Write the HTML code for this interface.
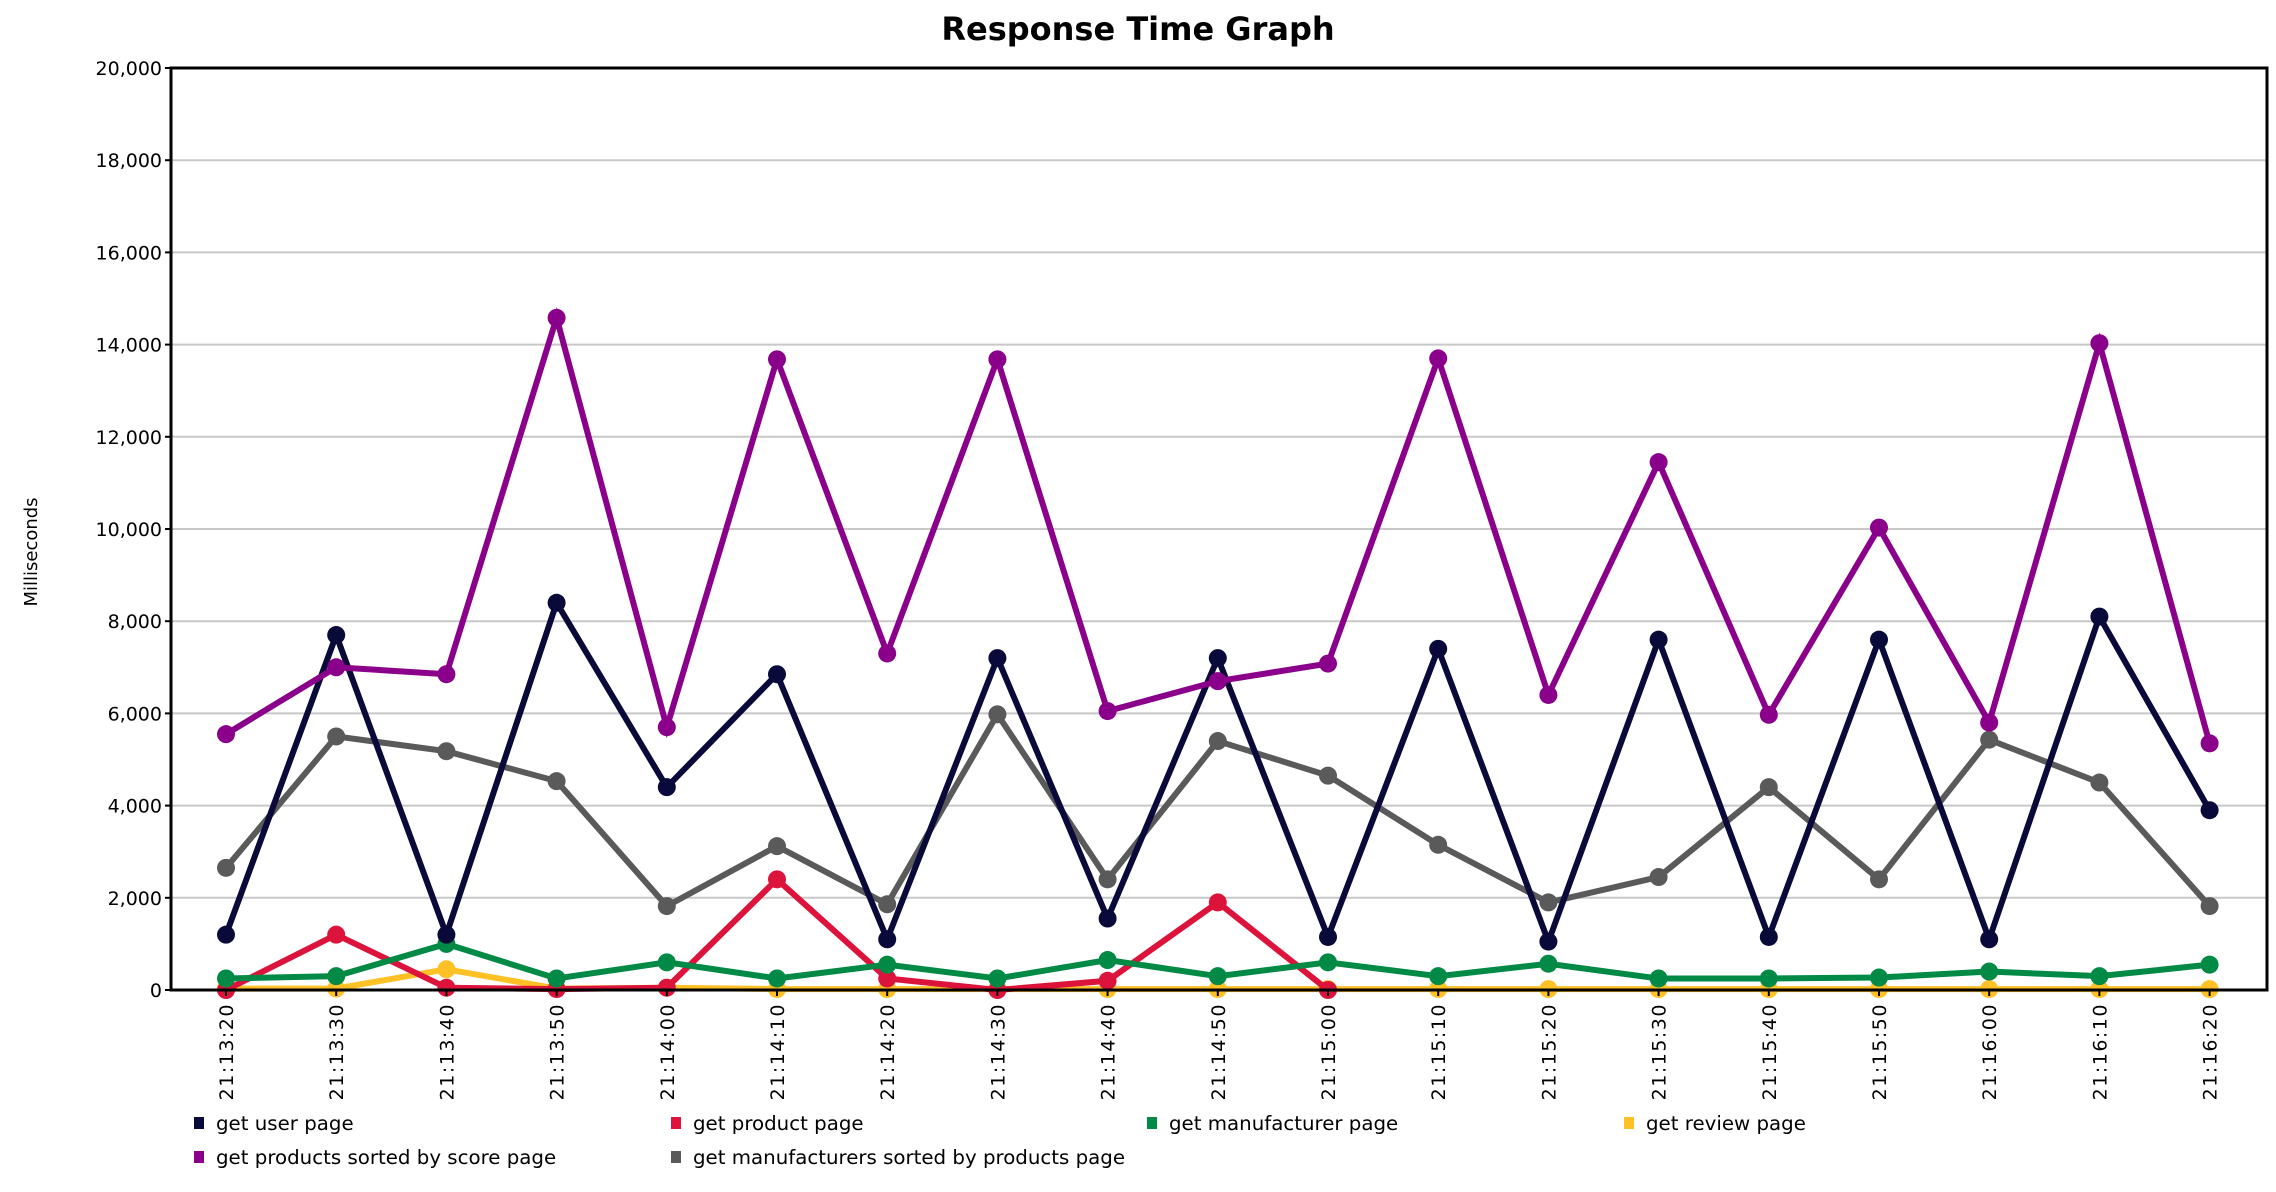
<!DOCTYPE html>
<html><head><meta charset="utf-8"><style>
html,body{margin:0;padding:0;background:#fff;}
svg{display:block;font-family:"DejaVu Sans","Liberation Sans",sans-serif;}
</style></head><body>
<svg id="chart" width="2276" height="1192" viewBox="0 0 2276 1192" xmlns="http://www.w3.org/2000/svg">
<text x="1138" y="40" text-anchor="middle" font-size="32" font-weight="bold">Response Time Graph</text>
<text transform="translate(37,552) rotate(-90)" text-anchor="middle" font-size="18">Milliseconds</text>
<g id="grid"></g><g id="series"></g><g id="axes"></g><g id="legend"></g>
</svg>
<script>
const categories=["21:13:20","21:13:30","21:13:40","21:13:50","21:14:00","21:14:10","21:14:20","21:14:30","21:14:40","21:14:50","21:15:00","21:15:10","21:15:20","21:15:30","21:15:40","21:15:50","21:16:00","21:16:10","21:16:20"];
const yTicks=[0,2000,4000,6000,8000,10000,12000,14000,16000,18000,20000];
const seriesNames=["get user page","get product page","get manufacturer page","get review page","get products sorted by score page","get manufacturers sorted by products page"];
const userPage=[1200,7700,1200,8400,4400,6850,1100,7200,1550,7200,1150,7400,1050,7600,1150,7600,1100,8100,3900];
const productPage=[0,1200,50,20,50,2400,250,0,200,1900,0,0,0,0,0,0,0,0,0];
const manufacturerPage=[250,300,1000,250,600,250,550,250,650,300,600,300,570,250,250,270,400,300,550];
const reviewPage=[30,30,450,30,50,20,20,20,20,20,20,20,20,20,20,20,20,20,20];
const productsSorted=[5550,7000,6850,14580,5700,13680,7300,13680,6050,6700,7080,13700,6400,11450,5970,10030,5800,14030,5350];
const manufacturersSorted=[2650,5500,5180,4530,1820,3120,1860,5980,2400,5400,4650,3150,1900,2450,4400,2400,5430,4500,1820];

const NS="http://www.w3.org/2000/svg";
const L=171,R=2267,T=68,B=990,X0=226,DX=110.2;
const xs=i=>X0+i*DX;
const ys=v=>B-(v/20000)*(B-T);
function mk(tag,attrs,parent){const e=document.createElementNS(NS,tag);for(const k in attrs)e.setAttribute(k,attrs[k]);parent.appendChild(e);return e;}
const grid=document.getElementById('grid'),axes=document.getElementById('axes'),ser=document.getElementById('series'),leg=document.getElementById('legend');
yTicks.forEach(v=>{
  if(v>0&&v<20000){const g=mk('line',{x1:L,x2:R,y1:ys(v),y2:ys(v),stroke:'#c8c8c8','stroke-width':2},grid);
  
  }
  mk('line',{x1:L-6,x2:L,y1:ys(v),y2:ys(v),stroke:'#000','stroke-width':2},axes);
  const t=mk('text',{x:L-9,y:ys(v)+7,'text-anchor':'end','font-size':19},axes);t.textContent=v.toLocaleString('en-US');
  
  
});
categories.forEach((c,i)=>{
  mk('line',{x1:xs(i),x2:xs(i),y1:B,y2:B+6,stroke:'#000','stroke-width':2},axes);
  const t=mk('text',{transform:`translate(${xs(i)+7},${B+13}) rotate(-90)`,'text-anchor':'end','font-size':19,'letter-spacing':'1.5'},axes);t.textContent=c;
  
  
});
const fr=mk('rect',{x:L,y:T,width:R-L,height:B-T,fill:'none',stroke:'#000','stroke-width':3},axes);


const colors=["#0a0a3a","#dc143c","#008a45","#ffc125","#8b008b","#5a5a5a"];
const data=[userPage,productPage,manufacturerPage,reviewPage,productsSorted,manufacturersSorted];
const order=[3,1,2,5,0,4];
order.forEach(s=>{
  const g=mk('g',{},ser);
  
  
  const d=data[s];
  const n=s===1?11:d.length;
  mk('polyline',{points:d.slice(0,n).map((v,i)=>xs(i)+','+ys(v)).join(' '),fill:'none',stroke:colors[s],'stroke-width':6,'stroke-linejoin':'miter'},g);
  d.slice(0,n).forEach((v,i)=>{const c=mk('circle',{cx:xs(i),cy:ys(v),r:9,fill:colors[s]},g);
    
    });
});
const lx=[199,676,1152,1629],ly=[1123,1157];
seriesNames.forEach((nm,i)=>{
  const x=lx[i%4],y=ly[Math.floor(i/4)];
  const g=mk('g',{},leg);
  
  
  mk('rect',{x:x-5,y:y-6,width:10,height:12,fill:colors[i]},g);
  const t=mk('text',{x:x+17,y:y+7,'font-size':19.8},g);t.textContent=nm;
});
</script>
</body></html>
